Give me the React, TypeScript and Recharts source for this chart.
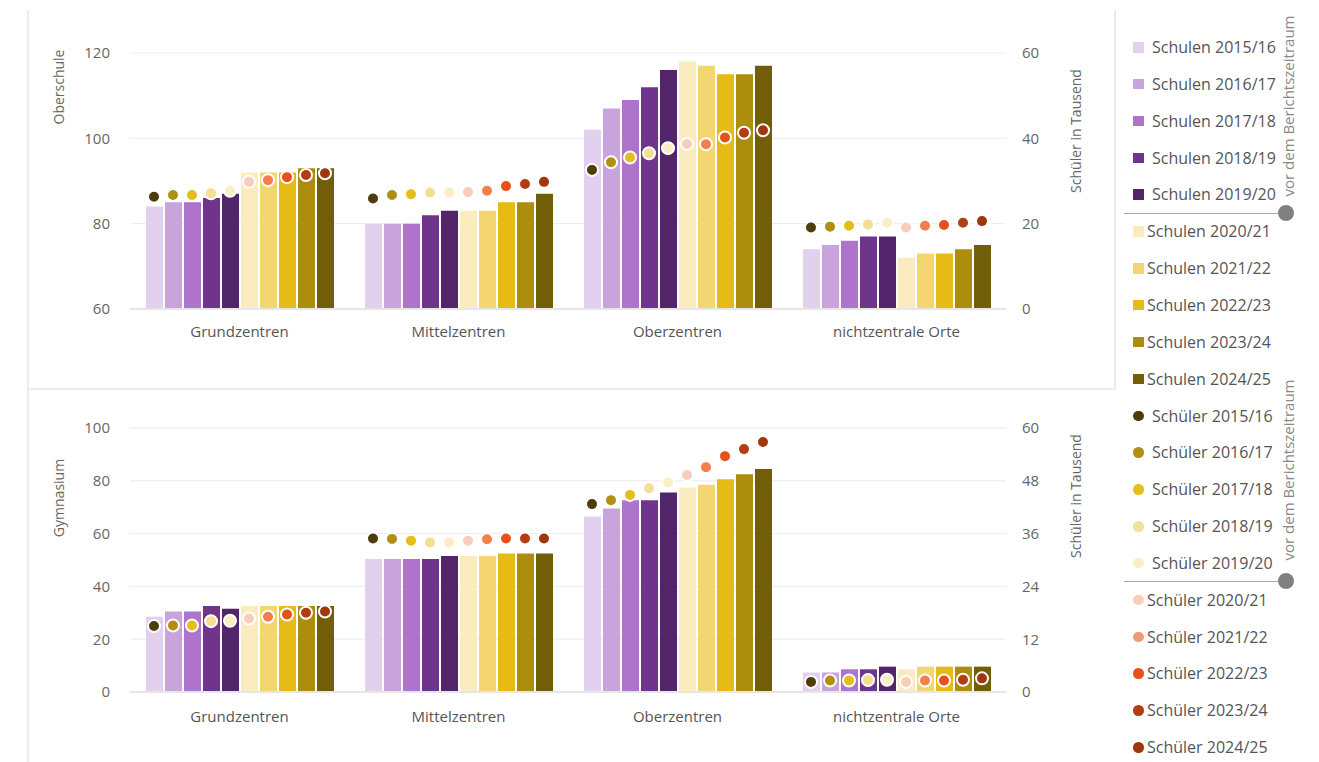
import React from "react";
import { ComposedChart, Bar, Line, XAxis, YAxis, CartesianGrid, Label } from "recharts";

const FONT = "'Open Sans', 'Noto Sans', sans-serif";

const categories = ["Grundzentren", "Mittelzentren", "Oberzentren", "nichtzentrale Orte"];
const years = ["2015/16", "2016/17", "2017/18", "2018/19", "2019/20", "2020/21", "2021/22", "2022/23", "2023/24", "2024/25"];

const schulenColors = ["#e2d1ee", "#c9a3dc", "#ae74cb", "#6f348c", "#52256a", "#faecbf", "#f3d66f", "#e6bb15", "#ad8d0e", "#735e08"];
const schuelerColors = ["#4e3c0a", "#b08f13", "#e6bd1a", "#f4de94", "#faefc4", "#f9cdbc", "#f27f4c", "#e8501a", "#b23d12", "#a0360e"];
const schuelerLegendColors = ["#4e3c0a", "#b08f13", "#e6bd1a", "#f4e09a", "#faefc4", "#f9cdbc", "#f29a78", "#e8501a", "#b23d12", "#a0360e"];

// Oberschule – Anzahl Schulen (per category, per school year)
const oberschuleSchulen = [
  [84, 85, 85, 86, 87, 92, 92, 92, 93, 93],
  [80, 80, 80, 82, 83, 83, 83, 85, 85, 87],
  [102, 107, 109, 112, 116, 118, 117, 115, 115, 117],
  [74, 75, 76, 77, 77, 72, 73, 73, 74, 75],
];
// Oberschule – Schüler in Tausend
const oberschuleSchueler = [
  [26.3, 26.7, 26.7, 27.1, 27.7, 29.8, 30.2, 30.9, 31.4, 31.8],
  [25.9, 26.7, 26.9, 27.3, 27.3, 27.4, 27.7, 28.8, 29.3, 29.8],
  [32.6, 34.4, 35.5, 36.5, 37.7, 38.7, 38.6, 40.2, 41.3, 41.9],
  [19.1, 19.3, 19.5, 19.8, 20.2, 19.1, 19.5, 19.7, 20.2, 20.6],
];
// Gymnasium – Anzahl Schulen
const gymnasiumSchulen = [
  [28.5, 30.5, 30.5, 32.6, 31.5, 32.6, 32.6, 32.6, 32.6, 32.6],
  [50.4, 50.4, 50.4, 50.4, 51.5, 51.5, 51.5, 52.5, 52.5, 52.5],
  [66.5, 69.5, 72.6, 72.6, 75.6, 77.5, 78.5, 80.6, 82.5, 84.5],
  [7.4, 7.4, 8.6, 8.6, 9.6, 8.6, 9.6, 9.6, 9.6, 9.6],
];
// Gymnasium – Schüler in Tausend
const gymnasiumSchueler = [
  [15.0, 15.1, 15.1, 16.1, 16.2, 16.7, 17.1, 17.6, 18.0, 18.3],
  [34.9, 34.8, 34.4, 34.0, 34.0, 34.4, 34.7, 34.9, 34.9, 34.9],
  [42.7, 43.6, 44.8, 46.3, 47.6, 49.3, 51.1, 53.6, 55.2, 56.8],
  [2.3, 2.6, 2.6, 2.7, 2.8, 2.3, 2.6, 2.6, 2.8, 3.1],
];

const oberschuleLeftTicks = [60, 80, 100, 120];
const oberschuleRightTicks = [0, 20, 40, 60];
const gymnasiumLeftTicks = [0, 20, 40, 60, 80, 100];
const gymnasiumRightTicks = [0, 12, 24, 36, 48, 60];

const BAR_SIZE = 17;
const BAR_GAP = 2;
const STEP = BAR_SIZE + BAR_GAP;

function buildRows(schulen: number[][], schueler: number[][]) {
  return categories.map((cat, c) => {
    const row: any = { cat };
    years.forEach((_, i) => {
      row[`s${i}`] = schulen[c][i];
      row[`p${i}`] = schueler[c][i];
    });
    return row;
  });
}

const makeDot = (i: number, color: string) => (props: any) => {
  const { cx, cy, index } = props;
  if (cx == null || cy == null) return <g key={`d-${i}-${index}`} />;
  return (
    <circle
      key={`d-${i}-${index}`}
      cx={cx + (i - 4.5) * STEP}
      cy={cy}
      r={6}
      fill={color}
      stroke="#ffffff"
      strokeWidth={2}
    />
  );
};

const titleContent = (text: string, xOff: number, dy: number) => (props: any) => {
  const vb = props.viewBox || {};
  const x = vb.x + xOff;
  const y = vb.y + vb.height / 2 + dy;
  return (
    <text
      x={x}
      y={y}
      transform={`rotate(-90 ${x} ${y})`}
      textAnchor="middle"
      dominantBaseline="central"
      fill="#666"
      fontSize={14}
      fontFamily={FONT}
    >
      {text}
    </text>
  );
};

function Panel(props: {
  data: any[];
  height: number;
  margin: any;
  leftDomain: [number, number];
  leftTicks: number[];
  rightTicks: number[];
  leftTitle: string;
  leftDy: number;
  rightDy: number;
  xTickMargin: number;
}) {
  const { data, height, margin, leftDomain, leftTicks, rightTicks, leftTitle, leftDy, rightDy, xTickMargin } = props;
  return (
    <ComposedChart width={1110} height={height} data={data} margin={margin} barGap={BAR_GAP}>
      <CartesianGrid vertical={false} stroke="#ececec" yAxisId="left" />
      <XAxis
        dataKey="cat"
        interval={0}
        tickLine={false}
        tickSize={0}
        tickMargin={xTickMargin}
        axisLine={{ stroke: "#e6e6e6", strokeWidth: 2 }}
        height={30}
        tick={{ fill: "#555", fontSize: 15, fontFamily: FONT }}
      />
      <YAxis
        yAxisId="left"
        orientation="left"
        domain={leftDomain}
        ticks={leftTicks}
        allowDataOverflow
        axisLine={false}
        tickLine={false}
        tickSize={0}
        tickMargin={20}
        width={130}
        tick={{ fill: "#666", fontSize: 15, fontFamily: FONT }}
      >
        <Label content={titleContent(leftTitle, 58, leftDy)} />
      </YAxis>
      <YAxis
        yAxisId="right"
        orientation="right"
        domain={[0, 60]}
        ticks={rightTicks}
        allowDataOverflow
        axisLine={false}
        tickLine={false}
        tickSize={0}
        tickMargin={16}
        width={60}
        tick={{ fill: "#666", fontSize: 15, fontFamily: FONT }}
      >
        <Label content={titleContent("Schüler in Tausend", 69, rightDy)} />
      </YAxis>
      {years.map((y, i) => (
        <Bar
          key={`bar-${i}`}
          yAxisId="left"
          dataKey={`s${i}`}
          name={`Schulen ${y}`}
          fill={schulenColors[i]}
          barSize={BAR_SIZE}
          isAnimationActive={false}
        />
      ))}
      {years.map((y, i) => (
        <Line
          key={`line-${i}`}
          yAxisId="right"
          dataKey={`p${i}`}
          name={`Schüler ${y}`}
          stroke="none"
          strokeWidth={0}
          dot={makeDot(i, schuelerColors[i])}
          activeDot={false}
          legendType="none"
          isAnimationActive={false}
        />
      ))}
    </ComposedChart>
  );
}

const LEGEND_TOP = 47;
const LEGEND_STEP = 36.85;

function Legend() {
  const items = [
    ...years.map((y, i) => ({ label: `Schulen ${y}`, color: schulenColors[i], round: false, idx: i })),
    ...years.map((y, i) => ({ label: `Schüler ${y}`, color: schuelerLegendColors[i], round: true, idx: i })),
  ];
  const sepYs = [LEGEND_TOP + 4.5 * LEGEND_STEP, LEGEND_TOP + 14.5 * LEGEND_STEP];
  const rotCenters = [106, 470];
  return (
    <>
      {items.map((it, k) => {
        const cy = LEGEND_TOP + k * LEGEND_STEP;
        const textLeft = it.idx < 5 ? 1152 : 1147;
        return (
          <React.Fragment key={`lg-${k}`}>
            <div
              style={{
                position: "absolute",
                left: 1133,
                top: cy - 5,
                width: 10.5,
                height: 10.5,
                background: it.color,
                borderRadius: it.round ? "50%" : 0,
              }}
            />
            <div
              style={{
                position: "absolute",
                left: textLeft,
                top: cy - 11,
                height: 22,
                lineHeight: "22px",
                fontSize: 16,
                fontFamily: FONT,
                color: "#555",
                whiteSpace: "nowrap",
              }}
            >
              {it.label}
            </div>
          </React.Fragment>
        );
      })}
      {sepYs.map((sy, k) => (
        <React.Fragment key={`sep-${k}`}>
          <div style={{ position: "absolute", left: 1124, top: sy, width: 162, height: 1, background: "#a8a8a8" }} />
          <div
            style={{
              position: "absolute",
              left: 1286 - 8,
              top: sy - 8,
              width: 16,
              height: 16,
              borderRadius: "50%",
              background: "#808080",
            }}
          />
        </React.Fragment>
      ))}
      {rotCenters.map((cy, k) => (
        <div
          key={`rot-${k}`}
          style={{
            position: "absolute",
            left: 1288 - 110,
            top: cy - 11,
            width: 220,
            height: 22,
            lineHeight: "22px",
            textAlign: "center",
            fontSize: 15,
            fontFamily: FONT,
            color: "#888",
            transform: "rotate(-90deg)",
            transformOrigin: "center center",
            whiteSpace: "nowrap",
          }}
        >
          vor dem Berichtszeitraum
        </div>
      ))}
    </>
  );
}

export default function App() {
  const topData = buildRows(oberschuleSchulen, oberschuleSchueler);
  const bottomData = buildRows(gymnasiumSchulen, gymnasiumSchueler);
  const line = "#ececec";
  return (
    <div
      style={{
        position: "absolute",
        left: 0,
        top: 0,
        width: 1319,
        height: 762,
        background: "#fff",
        overflow: "hidden",
        fontFamily: FONT,
      }}
    >
      {/* panel frames */}
      <div style={{ position: "absolute", left: 27, top: 10, width: 2, height: 379, background: line }} />
      <div style={{ position: "absolute", left: 27, top: 388, width: 1089, height: 2, background: line }} />
      <div style={{ position: "absolute", left: 1114, top: 10, width: 2, height: 380, background: line }} />
      <div style={{ position: "absolute", left: 27, top: 390, width: 2, height: 372, background: line }} />

      <div style={{ position: "absolute", left: 0, top: 0 }}>
        <Panel
          data={topData}
          height={388}
          margin={{ top: 53, right: 44, bottom: 49, left: 0 }}
          leftDomain={[60, 120]}
          leftTicks={oberschuleLeftTicks}
          rightTicks={oberschuleRightTicks}
          leftTitle="Oberschule"
          leftDy={-94}
          rightDy={-50}
          xTickMargin={17}
        />
      </div>
      <div style={{ position: "absolute", left: 0, top: 388 }}>
        <Panel
          data={bottomData}
          height={374}
          margin={{ top: 40, right: 44, bottom: 40, left: 0 }}
          leftDomain={[0, 100]}
          leftTicks={gymnasiumLeftTicks}
          rightTicks={gymnasiumRightTicks}
          leftTitle="Gymnasium"
          leftDy={-62}
          rightDy={-64}
          xTickMargin={19}
        />
      </div>
      <Legend />
    </div>
  );
}
